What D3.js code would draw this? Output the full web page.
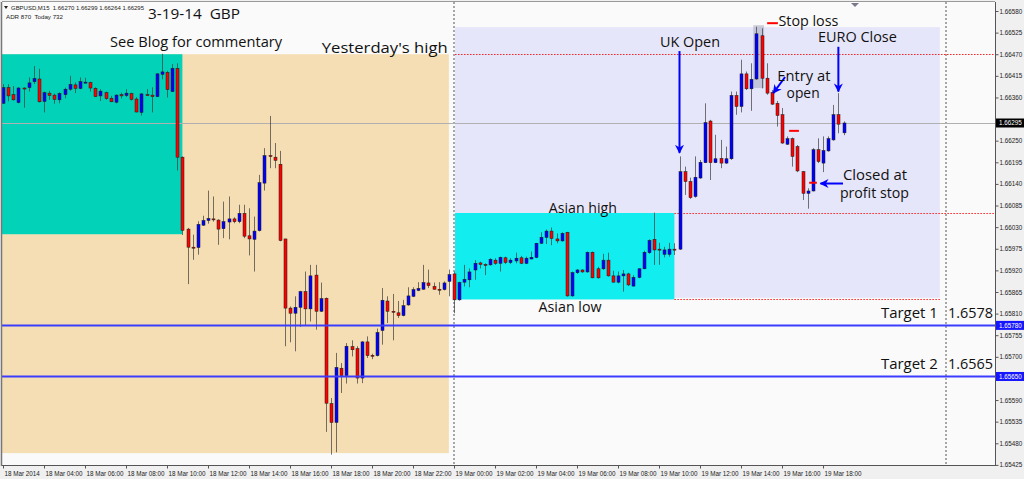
<!DOCTYPE html>
<html><head><meta charset="utf-8">
<script src="https://cdn.jsdelivr.net/npm/d3@7"></script>
<style>body{margin:0;background:#fff}svg{display:block}</style>
</head><body>
<svg id="chart" width="1024" height="479"></svg>
<script>
// ---- data (GBPUSD M15, 18 Mar 02:00 .. 19 Mar 19:00) ----
const opens = [1.66345,1.66385,1.66367,1.66347,1.66384,1.66385,1.66400,1.66407,1.66350,1.66371,1.66366,1.66354,1.66367,1.66381,1.66392,1.66383,1.66397,1.66398,1.66383,1.66364,1.66372,1.66358,1.66348,1.66367,1.66365,1.66370,1.66356,1.66322,1.66367,1.66366,1.66362,1.66419,1.66424,1.66375,1.66434,1.66208,1.66025,1.65979,1.65978,1.66035,1.66047,1.66051,1.66048,1.66026,1.66043,1.66051,1.66044,1.66065,1.66008,1.65999,1.66021,1.66142,1.66212,1.66208,1.66190,1.66000,1.65824,1.65811,1.65826,1.65866,1.65822,1.65908,1.65816,1.65849,1.65581,1.65533,1.65671,1.65652,1.65726,1.65721,1.65646,1.65738,1.65704,1.65703,1.65767,1.65842,1.65816,1.65812,1.65805,1.65832,1.65854,1.65869,1.65872,1.65888,1.65879,1.65872,1.65871,1.65892,1.65911,1.65845,1.65890,1.65896,1.65921,1.65939,1.65935,1.65934,1.65946,1.65938,1.65952,1.65940,1.65944,1.65952,1.65938,1.65949,1.65953,1.65989,1.66004,1.66020,1.66000,1.65995,1.66017,1.65855,1.65914,1.65921,1.65916,1.65966,1.65924,1.65924,1.65946,1.65906,1.65890,1.65906,1.65911,1.65880,1.65902,1.65924,1.65965,1.65999,1.65974,1.65961,1.65961,1.65974,1.65974,1.66171,1.66146,1.66108,1.66155,1.66194,1.66300,1.66194,1.66205,1.66193,1.66204,1.66365,1.66337,1.66420,1.66382,1.66407,1.66517,1.66409,1.66373,1.66345,1.66316,1.66241,1.66255,1.66235,1.66171,1.66116,1.66122,1.66227,1.66193,1.66224,1.66252,1.66316,1.66270];
const highs = [1.66394,1.66394,1.66389,1.66386,1.66386,1.66411,1.66440,1.66433,1.66375,1.66377,1.66370,1.66373,1.66385,1.66415,1.66398,1.66411,1.66410,1.66400,1.66386,1.66381,1.66375,1.66364,1.66368,1.66372,1.66381,1.66372,1.66361,1.66371,1.66381,1.66386,1.66422,1.66471,1.66428,1.66445,1.66447,1.66210,1.66028,1.66011,1.66045,1.66059,1.66123,1.66108,1.66050,1.66095,1.66108,1.66055,1.66087,1.66087,1.66078,1.66057,1.66163,1.66231,1.66313,1.66244,1.66224,1.66000,1.65828,1.65854,1.65868,1.65917,1.65934,1.65934,1.65889,1.65851,1.65595,1.65710,1.65684,1.65735,1.65742,1.65727,1.65740,1.65752,1.65708,1.65772,1.65875,1.65854,1.65860,1.65842,1.65845,1.65877,1.65877,1.65890,1.65934,1.65922,1.65889,1.65890,1.65892,1.65922,1.65917,1.65891,1.65934,1.65925,1.65946,1.65942,1.65938,1.65951,1.65951,1.65955,1.65955,1.65951,1.65965,1.65957,1.65955,1.65968,1.65990,1.66017,1.66024,1.66029,1.66014,1.66017,1.66018,1.65917,1.65923,1.65923,1.65968,1.65968,1.65929,1.65962,1.65965,1.65919,1.65917,1.65921,1.65914,1.65908,1.65925,1.65970,1.65999,1.66067,1.65990,1.65980,1.65990,1.65989,1.66210,1.66184,1.66156,1.66210,1.66201,1.66345,1.66303,1.66265,1.66252,1.66235,1.66375,1.66375,1.66456,1.66426,1.66447,1.66540,1.66536,1.66447,1.66379,1.66351,1.66333,1.66261,1.66258,1.66239,1.66173,1.66129,1.66231,1.66256,1.66261,1.66261,1.66341,1.66371,1.66299];
const lows = [1.66344,1.66350,1.66352,1.66345,1.66334,1.66375,1.66394,1.66347,1.66322,1.66354,1.66344,1.66345,1.66358,1.66377,1.66371,1.66381,1.66396,1.66375,1.66361,1.66351,1.66354,1.66348,1.66345,1.66357,1.66361,1.66352,1.66322,1.66314,1.66365,1.66322,1.66361,1.66406,1.66360,1.66374,1.66174,1.66010,1.65885,1.65947,1.65960,1.66033,1.66039,1.66044,1.65985,1.66002,1.65999,1.66040,1.66040,1.66002,1.65958,1.65917,1.66019,1.66123,1.66180,1.66180,1.65994,1.65727,1.65737,1.65714,1.65776,1.65780,1.65790,1.65769,1.65814,1.65509,1.65451,1.65457,1.65608,1.65632,1.65701,1.65632,1.65633,1.65697,1.65694,1.65701,1.65731,1.65786,1.65742,1.65799,1.65803,1.65830,1.65852,1.65867,1.65871,1.65875,1.65871,1.65858,1.65869,1.65854,1.65811,1.65843,1.65879,1.65877,1.65896,1.65925,1.65908,1.65932,1.65934,1.65917,1.65936,1.65936,1.65938,1.65936,1.65936,1.65948,1.65951,1.65987,1.65987,1.65984,1.65989,1.65993,1.65853,1.65853,1.65911,1.65914,1.65914,1.65900,1.65899,1.65921,1.65904,1.65889,1.65887,1.65866,1.65880,1.65879,1.65900,1.65923,1.65962,1.65934,1.65934,1.65953,1.65955,1.65959,1.65972,1.66112,1.66102,1.66105,1.66153,1.66193,1.66150,1.66193,1.66180,1.66191,1.66201,1.66316,1.66322,1.66379,1.66326,1.66405,1.66383,1.66367,1.66341,1.66286,1.66242,1.66239,1.66184,1.66170,1.66099,1.66077,1.66121,1.66193,1.66170,1.66222,1.66250,1.66269,1.66264];
const closes = [1.66385,1.66364,1.66354,1.66384,1.66383,1.66397,1.66408,1.66349,1.66372,1.66365,1.66355,1.66370,1.66381,1.66393,1.66383,1.66400,1.66399,1.66384,1.66362,1.66376,1.66357,1.66349,1.66366,1.66364,1.66371,1.66355,1.66323,1.66369,1.66366,1.66362,1.66420,1.66425,1.66380,1.66434,1.66208,1.66022,1.65979,1.65978,1.66037,1.66047,1.66052,1.66050,1.66025,1.66044,1.66051,1.66044,1.66065,1.66007,1.66000,1.66020,1.66143,1.66212,1.66210,1.66200,1.65996,1.65824,1.65811,1.65826,1.65866,1.65822,1.65906,1.65816,1.65848,1.65582,1.65533,1.65673,1.65652,1.65727,1.65718,1.65646,1.65738,1.65703,1.65703,1.65762,1.65844,1.65816,1.65815,1.65805,1.65830,1.65855,1.65871,1.65874,1.65889,1.65881,1.65872,1.65871,1.65888,1.65909,1.65845,1.65889,1.65897,1.65916,1.65938,1.65935,1.65934,1.65948,1.65938,1.65953,1.65940,1.65946,1.65951,1.65938,1.65951,1.65953,1.65989,1.66004,1.66020,1.66001,1.65995,1.66014,1.65855,1.65914,1.65921,1.65916,1.65966,1.65901,1.65901,1.65946,1.65906,1.65890,1.65906,1.65911,1.65883,1.65902,1.65924,1.65966,1.65996,1.65972,1.65973,1.65972,1.65974,1.65973,1.66171,1.66146,1.66105,1.66157,1.66195,1.66296,1.66194,1.66204,1.66193,1.66204,1.66365,1.66337,1.66420,1.66382,1.66406,1.66522,1.66409,1.66371,1.66343,1.66314,1.66244,1.66255,1.66210,1.66173,1.66116,1.66122,1.66227,1.66197,1.66225,1.66255,1.66316,1.66292,1.66295];

const xTickBars = [0,8,16,24,32,40,48,56,64,72,80,88,96,104,112,120,128,136,144,152,160];
const xTickLabels = ["18 Mar 2014","18 Mar 04:00","18 Mar 06:00","18 Mar 08:00","18 Mar 10:00","18 Mar 12:00","18 Mar 14:00","18 Mar 16:00","18 Mar 18:00","18 Mar 20:00","18 Mar 22:00","19 Mar 00:00","19 Mar 02:00","19 Mar 04:00","19 Mar 06:00","19 Mar 08:00","19 Mar 10:00","19 Mar 12:00","19 Mar 14:00","19 Mar 16:00","19 Mar 18:00"];
const yTickValues = [1.66580,1.66525,1.66470,1.66415,1.66360,1.66250,1.66195,1.66140,1.66085,1.66030,1.65975,1.65920,1.65865,1.65810,1.65755,1.65700,1.65590,1.65535,1.65480,1.65425];

const yesterdayHigh = 1.66470, asianHigh = 1.66066, asianLow = 1.65846;
const target1 = 1.65780, target2 = 1.65650, bid = 1.66295;

// ---- layout ----
const W = 1024, H = 479, plotL = 2, plotR = 995, plotT = 2, plotB = 466;
const svg = d3.select("#chart");
const x = d3.scaleLinear().domain([0, 164]).range([3, 843.5]);
const y = d3.scaleLinear().domain([1.65425, 1.66580]).range([464.9, 11]);
const FONT = "'Open Sans', 'Noto Sans', sans-serif";
const SMALL = "'Liberation Sans', Arial, sans-serif";

svg.append("rect").attr("width", W).attr("height", H).attr("fill", "#f0f0f0");
svg.append("rect").attr("x", plotL).attr("y", plotT).attr("width", plotR - plotL).attr("height", plotB - plotT).attr("fill", "#fafafa");
const defs = svg.append("defs");
defs.append("clipPath").attr("id", "clip").append("rect")
  .attr("x", plotL).attr("y", plotT).attr("width", plotR - plotL).attr("height", plotB - plotT);
defs.append("marker").attr("id", "ah").attr("viewBox", "0 0 10 10").attr("refX", 9).attr("refY", 5)
  .attr("markerWidth", 9).attr("markerHeight", 9).attr("markerUnits", "userSpaceOnUse").attr("orient", "auto")
  .append("path").attr("d", "M0,0 L10,5 L0,10 L3,5 Z").attr("fill", "#0000ff");

const g = svg.append("g").attr("clip-path", "url(#clip)");

// background zones (time in bar units, price)
function zone(b0, b1, p0, p1, fill, op) {
  g.append("rect").attr("x", x(b0)).attr("y", y(p0)).attr("width", x(b1) - x(b0)).attr("height", y(p1) - y(p0))
    .attr("fill", fill).attr("opacity", op || 1);
}
zone(-0.3, 87, yesterdayHigh, 1.65455, "#f5deb3");
zone(-0.3, 35, yesterdayHigh, 1.66012, "#02d3b8");
zone(88.2, 182.8, 1.66539, 1.65850, "#e6e6fa");
zone(88.2, 131, asianHigh, asianLow, "#12eef0");

// period separators
[88, 184].forEach(b => g.append("line").attr("x1", x(b)).attr("x2", x(b)).attr("y1", plotT).attr("y2", plotB)
  .attr("stroke", "#555").attr("stroke-dasharray", "2,2").attr("stroke-width", 1));

// horizontal levels
function hline(p, b0, x1, color, w, dash) {
  g.append("line").attr("x1", b0 === null ? plotL : x(b0)).attr("x2", x1).attr("y1", Math.round(y(p)) + 0.5).attr("y2", Math.round(y(p)) + 0.5)
    .attr("stroke", color).attr("stroke-width", w).attr("stroke-dasharray", dash || null);
}
hline(bid, null, plotR, "#b0b0b0", 1);
hline(yesterdayHigh, 88.2, plotR, "#ff2020", 1, "1.5,1.5");
hline(asianHigh, 131, plotR, "#ff2020", 1, "1.5,1.5");
hline(asianLow, 131, x(182.8), "#ff2020", 1, "1.5,1.5");

// stop-loss highlight
zone(146.4, 148.5, 1.66544, 1.66384, "#9a9ab4", 0.45);

// candles
const idx = d3.range(opens.length);
g.selectAll(".wick").data(idx).join("line")
  .attr("x1", i => Math.round(x(i)) + 0.5).attr("x2", i => Math.round(x(i)) + 0.5)
  .attr("y1", i => y(highs[i])).attr("y2", i => y(lows[i]))
  .attr("stroke", "#3a3a3a").attr("stroke-opacity", 0.7).attr("stroke-width", 1);
g.selectAll(".body").data(idx).join("rect")
  .attr("x", i => Math.round(x(i)) - 1).attr("width", 3)
  .attr("y", i => y(Math.max(opens[i], closes[i])))
  .attr("height", i => Math.max(1, Math.abs(y(opens[i]) - y(closes[i]))))
  .attr("fill", i => closes[i] > opens[i] ? "#0000ff" : (closes[i] < opens[i] ? "#ff0000" : "#000"))
  .attr("stroke", "#1a1a1a").attr("stroke-width", 0.5);

// target lines
hline(target1, null, plotR, "#3c3cff", 2);
hline(target2, null, plotR, "#3c3cff", 2);

// red markers
function mark(b0, b1, p) {
  g.append("line").attr("x1", x(b0)).attr("x2", x(b1)).attr("y1", y(p)).attr("y2", y(p)).attr("stroke", "#ff0000").attr("stroke-width", 2);
}
mark(149.1, 151.2, 1.66549);
mark(153.4, 155.3, 1.66275);
mark(157.3, 158.8, 1.66143);

// arrows
function arrow(b0, p0, b1, p1) {
  g.append("line").attr("x1", x(b0)).attr("y1", y(p0)).attr("x2", x(b1)).attr("y2", y(p1))
    .attr("stroke", "#0000ff").attr("stroke-width", 2).attr("marker-end", "url(#ah)");
}
arrow(132, 1.66478, 132, 1.66219);
arrow(152.6, 1.66412, 150.3, 1.66371);
arrow(163, 1.66489, 163, 1.66375);
arrow(163.9, 1.66141, 159.5, 1.66141);

// annotation texts (anchored at bar, price), fitted to the reference widths
function label(t, b, p, len, size) {
  g.append("text").attr("x", x(b)).attr("y", y(p)).text(t).attr("font-family", FONT)
    .attr("font-size", size || 15).attr("fill", "#111")
    .attr("textLength", len).attr("lengthAdjust", "spacingAndGlyphs");
}
label("See Blog for commentary", 20.9, 1.66488, 172);
label("Yesterday's high", 62.2, 1.66473, 126);
label("UK Open", 128.2, 1.66488, 60);
label("Stop loss", 151.3, 1.66542, 60);
label("EURO Close", 159, 1.66500, 79);
label("Entry at", 151.1, 1.66402, 53, 14.5);
label("open", 152.9, 1.66358, 33, 14.5);
label("Closed at", 163.9, 1.66149, 64, 14.5);
label("profit stop", 163.3, 1.66105, 69, 14.5);
label("Asian high", 106.5, 1.66066, 68);
label("Asian low", 104.5, 1.65813, 63);
label("Target 1", 171.3, 1.65798, 57);
label("1.6578", 184.4, 1.65798, 45);
label("Target 2", 171.3, 1.65668, 57);
label("1.6565", 184.4, 1.65668, 45);

// header
svg.append("text").attr("x", 148).attr("y", 19).text("3-19-14  GBP").attr("font-family", FONT).attr("font-size", 14.5)
  .attr("fill", "#111").style("white-space", "pre").attr("textLength", 92).attr("lengthAdjust", "spacingAndGlyphs");
svg.append("path").attr("d", "M4,6 L8,6 L6,9 Z").attr("fill", "#222");
svg.append("text").attr("x", 11).attr("y", 10).text("GBPUSD,M15  1.66270 1.66299 1.66264 1.66295").attr("font-family", SMALL)
  .attr("font-size", 6).attr("fill", "#222").style("white-space", "pre").attr("textLength", 133).attr("lengthAdjust", "spacingAndGlyphs");
svg.append("text").attr("x", 6).attr("y", 19).text("ADR 870  Today 732").attr("font-family", SMALL).attr("font-size", 6)
  .attr("fill", "#222").style("white-space", "pre").attr("textLength", 57).attr("lengthAdjust", "spacingAndGlyphs");
svg.append("path").attr("d", "M851,3 L859,3 L855,7 Z").attr("fill", "#7a7a8a");

// frame
svg.append("line").attr("x1", plotL - 0.5).attr("x2", plotL - 0.5).attr("y1", plotT).attr("y2", plotB).attr("stroke", "#777").attr("stroke-width", 1.5);
svg.append("line").attr("x1", plotL).attr("x2", plotR).attr("y1", plotT - 0.5).attr("y2", plotT - 0.5).attr("stroke", "#999");

// right axis
const ya = svg.append("g").attr("transform", `translate(${plotR + 0.5},0)`)
  .call(d3.axisRight(y).tickValues(yTickValues).tickFormat(d3.format(".5f")).tickSize(3).tickPadding(1));
ya.select(".domain").remove();
ya.append("line").attr("x1", 0).attr("x2", 0).attr("y1", plotT).attr("y2", plotB).attr("stroke", "#555");
ya.selectAll("text").attr("font-family", SMALL).attr("font-size", 6.3).attr("fill", "#222");
ya.selectAll(".tick line").attr("stroke", "#555");

// price boxes on the axis
function priceBox(p, bg) {
  const yy = y(p);
  svg.append("rect").attr("x", plotR + 1).attr("y", yy - 4.5).attr("width", 28).attr("height", 9).attr("fill", bg);
  svg.append("text").attr("x", plotR + 4).attr("y", yy + 2.3).text(d3.format(".5f")(p))
    .attr("font-family", SMALL).attr("font-size", 6.3).attr("fill", "#fff");
}
priceBox(bid, "#000");
priceBox(target1, "#1515ff");
priceBox(target2, "#1515ff");

// bottom axis
const xa = svg.append("g").attr("transform", `translate(0,${plotB - 0.5})`)
  .call(d3.axisBottom(x).tickValues(xTickBars).tickFormat((d, i) => xTickLabels[i]).tickSize(3).tickPadding(3));
xa.select(".domain").remove();
xa.append("line").attr("x1", plotL).attr("x2", plotR).attr("y1", 0).attr("y2", 0).attr("stroke", "#555");
xa.selectAll(".tick line").attr("stroke", "#555");
xa.selectAll("text").attr("text-anchor", "start").attr("dx", 1).attr("font-family", SMALL).attr("font-size", 6.3).attr("fill", "#222");
</script>
</body></html>
